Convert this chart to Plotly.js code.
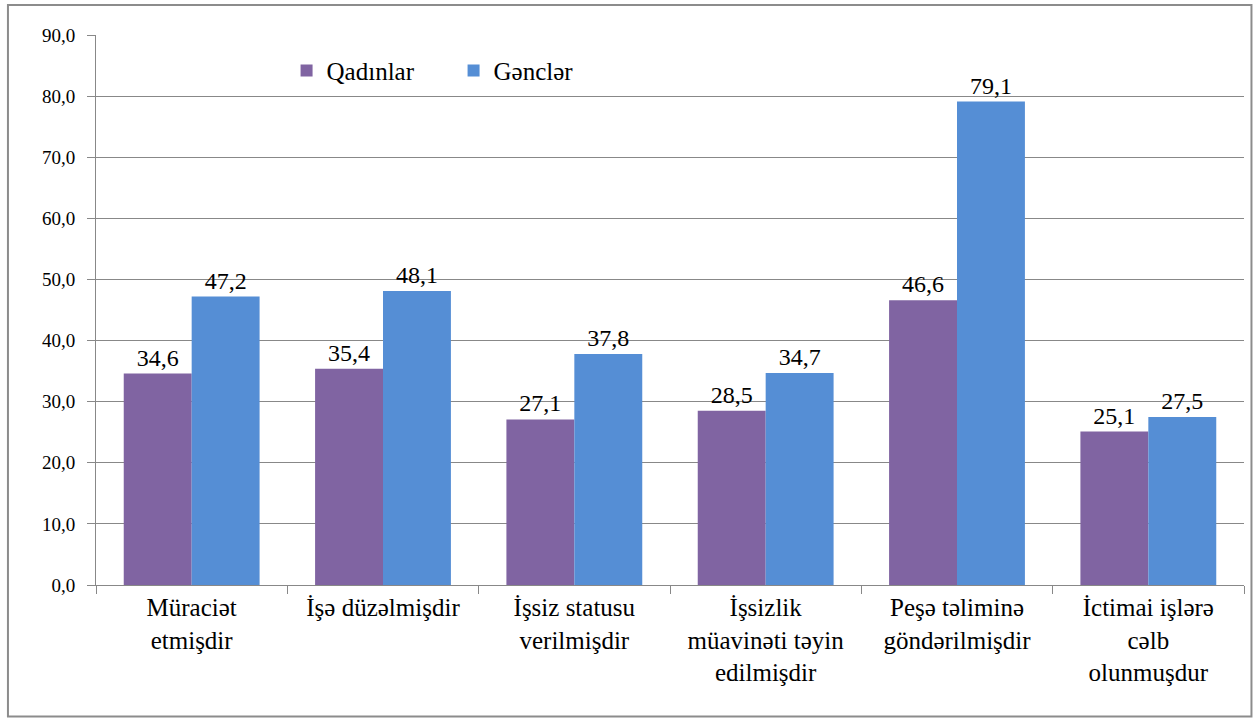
<!DOCTYPE html>
<html>
<head>
<meta charset="utf-8">
<script src="https://cdn.plot.ly/plotly-3.0.1.min.js"></script>
<style>
html,body{margin:0;padding:0;background:#fff;}
#chart{width:1258px;height:719px;}
.modebar-container{display:none !important;}
</style>
</head>
<body>
<div id="chart"></div>
<script>
const categories = [
  "Müraciət<br>etmişdir",
  "İşə düzəlmişdir",
  "İşsiz statusu<br>verilmişdir",
  "İşsizlik<br>müavinəti təyin<br>edilmişdir",
  "Peşə təliminə<br>göndərilmişdir",
  "İctimai işlərə<br>cəlb<br>olunmuşdur"
];
const qadinlar = [34.6, 35.4, 27.1, 28.5, 46.6, 25.1];
const gencler = [47.2, 48.1, 37.8, 34.7, 79.1, 27.5];
const seriesNames = ["Qadınlar", "Gənclər"];
const yTickVals = [0, 10, 20, 30, 40, 50, 60, 70, 80, 90];
const yTickText = ["0,0", "10,0", "20,0", "30,0", "40,0", "50,0", "60,0", "70,0", "80,0", "90,0"];

const fmt = v => v.toFixed(1).replace(".", ",");

const traces = [
  {type: "bar", name: seriesNames[0], x: categories, y: qadinlar,
   marker: {color: "#8064A2"}, text: qadinlar.map(fmt),
   textposition: "outside", textfont: {family: "Liberation Serif", size: 24, color: "black"}, cliponaxis: false},
  {type: "bar", name: seriesNames[1], x: categories, y: gencler,
   marker: {color: "#558ED5"}, text: gencler.map(fmt),
   textposition: "outside", textfont: {family: "Liberation Serif", size: 24, color: "black"}, cliponaxis: false}
];

const layout = {
  width: 1258, height: 719,
  margin: {l: 96, r: 14, t: 35, b: 134},
  bargap: 0.29, bargroupgap: 0,
  legend: {orientation: "h", x: 0.166, y: 0.935, xanchor: "left", yanchor: "middle",
           font: {family: "serif", size: 25, color: "black"}, entrywidth: 122},
  xaxis: {
    tickson: "boundaries", ticks: "outside", ticklen: 8, tickcolor: "#888",
    showline: true, linecolor: "#888", showgrid: false, tickangle: 0,
    tickfont: {family: "Times New Roman", size: 25, color: "black"}
  },
  yaxis: {
    range: [0, 90], tickvals: yTickVals, ticktext: yTickText,
    ticks: "outside", ticklen: 8, tickcolor: "#888",
    showline: true, linecolor: "#888",
    showgrid: true, gridcolor: "#888", zeroline: false,
    ticklabelstandoff: 8,
    tickfont: {family: "Verdana", size: 19, color: "black"}
  },
  shapes: [{type: "rect", xref: "paper", yref: "paper",
            x0: -0.0767, x1: 1.0065, y0: -0.239, y1: 1.0545,
            line: {color: "#8c8c8c", width: 2}, fillcolor: "rgba(0,0,0,0)", layer: "above"}]
};

Plotly.newPlot("chart", traces, layout);
</script>
</body>
</html>
